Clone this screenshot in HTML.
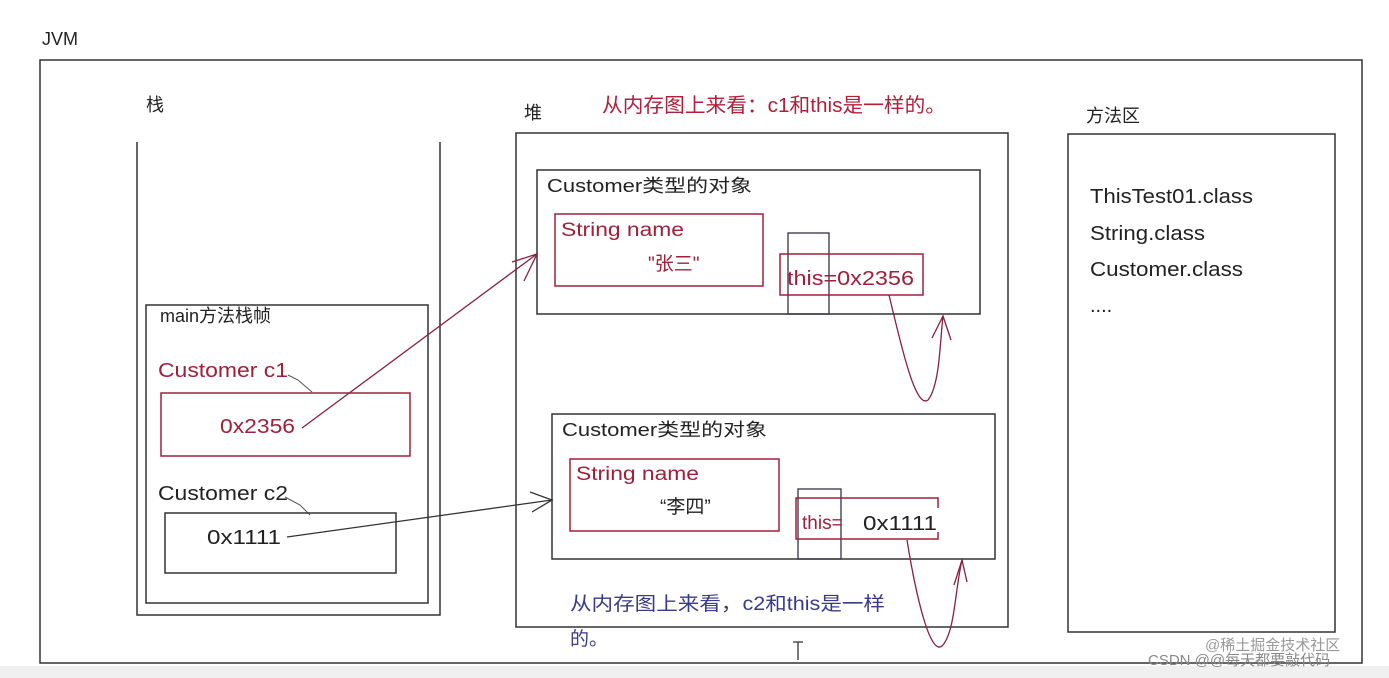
<!DOCTYPE html>
<html><head><meta charset="utf-8"><style>
body{margin:0;background:#fff;}
svg{display:block}
text{font-family:"Liberation Sans","Noto Sans CJK SC",sans-serif;}
</style></head><body>
<svg width="1389" height="678" viewBox="0 0 1389 678" xmlns="http://www.w3.org/2000/svg">
<rect x="0" y="0" width="1389" height="678" fill="#fff"/>
<rect x="0" y="666" width="1389" height="12" fill="#f0f0f0"/>
<text x="42" y="45" font-size="18" fill="#222">JVM</text>
<rect x="40" y="60" width="1322" height="603" fill="none" stroke="#333" stroke-width="1.5"/>
<!-- stack -->
<text x="146" y="111" font-size="18" fill="#222">栈</text>
<path d="M137 142 V615 H440 V142" fill="none" stroke="#333" stroke-width="1.5"/>
<rect x="146" y="305" width="282" height="298" fill="none" stroke="#333" stroke-width="1.5"/>
<text x="160" y="322" font-size="18" fill="#222">main方法栈帧</text>
<text x="158" y="377" font-size="20" fill="#a0203a" textLength="130" lengthAdjust="spacingAndGlyphs">Customer c1</text>
<path d="M288 375 L298 380 L312 392" fill="none" stroke="#555" stroke-width="1"/>
<rect x="161" y="393" width="249" height="63" fill="none" stroke="#a0203a" stroke-width="1.5"/>
<text x="220" y="433" font-size="20" fill="#a0203a" textLength="75" lengthAdjust="spacingAndGlyphs">0x2356</text>
<text x="158" y="500" font-size="20" fill="#222" textLength="130" lengthAdjust="spacingAndGlyphs">Customer c2</text>
<path d="M285 497 L300 505 L310 515" fill="none" stroke="#555" stroke-width="1"/>
<rect x="165" y="513" width="231" height="60" fill="none" stroke="#333" stroke-width="1.5"/>
<text x="207" y="544" font-size="20" fill="#222" textLength="74" lengthAdjust="spacingAndGlyphs">0x1111</text>
<!-- heap -->
<text x="524" y="119" font-size="18" fill="#222">堆</text>
<text x="602" y="112" font-size="20" fill="#b0203a" textLength="344" lengthAdjust="spacingAndGlyphs">从内存图上来看：c1和this是一样的。</text>
<rect x="516" y="133" width="492" height="494" fill="none" stroke="#333" stroke-width="1.5"/>
<rect x="537" y="170" width="443" height="144" fill="none" stroke="#333" stroke-width="1.5"/>
<text x="547" y="192" font-size="18" fill="#222" textLength="205" lengthAdjust="spacingAndGlyphs">Customer类型的对象</text>
<rect x="555" y="214" width="208" height="72" fill="none" stroke="#a0203a" stroke-width="1.5"/>
<text x="561" y="236" font-size="19" fill="#a0203a" textLength="123" lengthAdjust="spacingAndGlyphs">String name</text>
<text x="648" y="270" font-size="19" fill="#a0203a">"张三"</text>
<rect x="788" y="233" width="41" height="81" fill="none" stroke="#334" stroke-width="1.3"/>
<rect x="780" y="254" width="143" height="41" fill="none" stroke="#a0203a" stroke-width="1.5"/>
<text x="787" y="285" font-size="20" fill="#a0203a" textLength="127" lengthAdjust="spacingAndGlyphs">this=0x2356</text>
<rect x="552" y="414" width="443" height="145" fill="none" stroke="#333" stroke-width="1.5"/>
<text x="562" y="436" font-size="18" fill="#222" textLength="205" lengthAdjust="spacingAndGlyphs">Customer类型的对象</text>
<rect x="570" y="459" width="209" height="72" fill="none" stroke="#a0203a" stroke-width="1.5"/>
<text x="576" y="480" font-size="19" fill="#a0203a" textLength="123" lengthAdjust="spacingAndGlyphs">String name</text>
<text x="660" y="513" font-size="19" fill="#222">“李四”</text>
<rect x="798" y="489" width="43" height="70" fill="none" stroke="#334" stroke-width="1.3"/>
<path d="M938 508 V498 H796 V539 H938 V532" fill="none" stroke="#a0203a" stroke-width="1.5"/>
<text x="802" y="529" font-size="19" fill="#a0203a">this=</text>
<text x="863" y="530" font-size="20" fill="#222" textLength="74" lengthAdjust="spacingAndGlyphs">0x1111</text>
<text x="570" y="610" font-size="19" fill="#3a3a8a" textLength="315" lengthAdjust="spacingAndGlyphs">从内存图上来看，c2和this是一样</text>
<text x="570" y="645" font-size="19" fill="#3a3a8a">的。</text>
<!-- method area -->
<text x="1086" y="122" font-size="18" fill="#222">方法区</text>
<rect x="1068" y="134" width="267" height="498" fill="none" stroke="#333" stroke-width="1.5"/>
<text x="1090" y="203" font-size="20" fill="#222" textLength="163" lengthAdjust="spacingAndGlyphs">ThisTest01.class</text>
<text x="1090" y="240" font-size="20" fill="#222" textLength="115" lengthAdjust="spacingAndGlyphs">String.class</text>
<text x="1090" y="276" font-size="20" fill="#222" textLength="153" lengthAdjust="spacingAndGlyphs">Customer.class</text>
<text x="1090" y="312" font-size="20" fill="#222">....</text>
<!-- arrows -->
<g fill="none" stroke="#8a2040" stroke-width="1.3">
<path d="M302 428 L537 254"/>
<path d="M512 262 L537 254 L524 281"/>
<path d="M889 295 C900 340 915 410 928 400 C940 385 940 340 943 316"/>
<path d="M932 338 L943 316 L951 340"/>
<path d="M907 540 C915 590 930 660 943 645 C955 630 955 590 962 560"/>
<path d="M954 585 L962 560 L967 582"/>
</g>
<g fill="none" stroke="#333" stroke-width="1.3">
<path d="M287 537 L552 500"/>
<path d="M530 492 L552 500 L532 512"/>
<path d="M798 642 V660 M793 642 H803"/>
</g>
<text x="1205" y="650" font-size="15" fill="#999">@稀土掘金技术社区</text>
<text x="1148" y="665" font-size="15" fill="#888">CSDN @@每天都要敲代码</text>
</svg>
</body></html>
